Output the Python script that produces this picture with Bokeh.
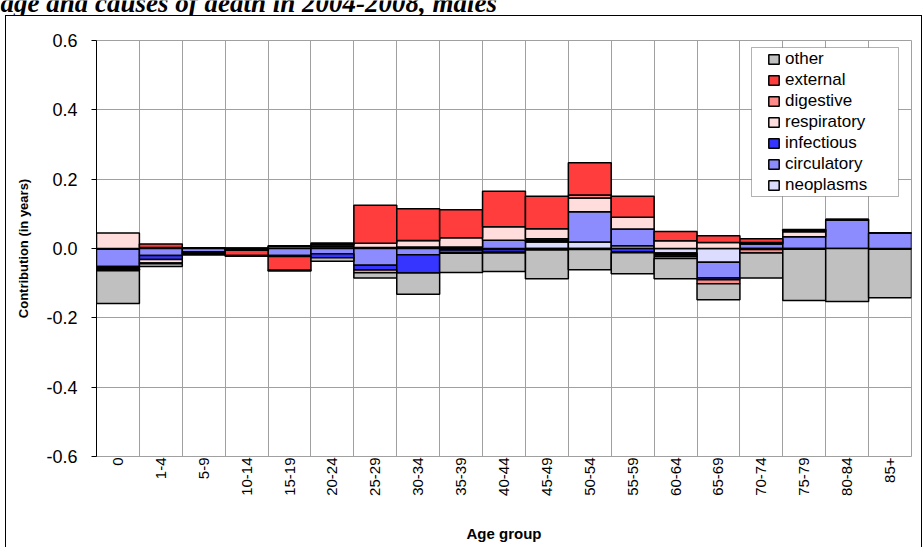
import numpy as np
from bokeh.plotting import figure
from bokeh.layouts import column
from bokeh.models import (FixedTicker, Legend, LegendItem, Span, Label, BoxAnnotation,
                          Range1d, PrintfTickFormatter, Column)
from bokeh.embed import file_html
from bokeh.resources import INLINE

# ---------------- data ----------------
ages = ["0", "1-4", "5-9", "10-14", "15-19", "20-24", "25-29", "30-34", "35-39", "40-44",
        "45-49", "50-54", "55-59", "60-64", "65-69", "70-74", "75-79", "80-84", "85+"]

neoplasms   = [-0.002, 0.003, 0.002, 0.001, 0.006, 0.005, 0.003, 0.004, 0.004, -0.003,
               0.019, 0.019, 0.008, -0.013, -0.040, 0.000, 0.000, 0.000, -0.002]
circulatory = [-0.050, -0.020, -0.010, -0.002, -0.020, -0.015, -0.048, -0.018, -0.004, 0.024,
               0.004, 0.087, 0.048, -0.004, -0.045, 0.013, 0.034, 0.082, 0.045]
infectious  = [-0.004, -0.012, -0.003, -0.003, -0.003, -0.012, -0.014, -0.053, -0.008, -0.008,
               0.005, -0.003, -0.010, -0.005, -0.005, -0.003, -0.002, 0.002, 0.000]
respiratory = [0.045, -0.010, 0.000, 0.000, 0.002, 0.005, 0.012, 0.019, 0.027, 0.039,
               0.029, 0.040, 0.034, 0.022, 0.017, 0.004, 0.014, 0.000, 0.000]
digestive   = [-0.004, -0.002, 0.000, 0.000, 0.000, 0.002, -0.008, 0.000, -0.002, -0.002,
               -0.004, 0.008, -0.002, -0.007, -0.012, -0.010, 0.004, 0.000, 0.000]
external    = [-0.004, 0.010, -0.002, -0.015, -0.040, 0.004, 0.110, 0.092, 0.081, 0.102,
               0.094, 0.093, 0.061, 0.027, 0.020, 0.011, 0.003, 0.000, 0.000]
other       = [-0.095, -0.008, -0.004, -0.002, -0.002, -0.010, -0.015, -0.061, -0.055, -0.053,
               -0.083, -0.058, -0.061, -0.058, -0.046, -0.072, -0.148, -0.153, -0.140]

y_ticks = [-0.6, -0.4, -0.2, 0.0, 0.2, 0.4, 0.6]

title_text = "age and causes of death in 2004-2008, males"

# stacking order (first = closest to zero) and legend order
stack_order = ["neoplasms", "circulatory", "infectious", "respiratory", "digestive", "external", "other"]
legend_order = ["other", "external", "digestive", "respiratory", "infectious", "circulatory", "neoplasms"]
series = {"neoplasms": neoplasms, "circulatory": circulatory, "infectious": infectious,
          "respiratory": respiratory, "digestive": digestive, "external": external, "other": other}
colors = {"other": "#c0c0c0", "external": "#ff3d3d", "digestive": "#ff8a8a",
          "respiratory": "#ffdddd", "infectious": "#3535ff", "circulatory": "#8c8cff",
          "neoplasms": "#dcdcff"}

FONT = "Liberation Sans"

# ---------------- title strip (top is cut off, as in the reference) ----------------
t = figure(width=924, height=15, min_border=0, x_axis_location=None, y_axis_location=None,
           x_range=Range1d(0, 1), y_range=Range1d(0, 1),
           output_backend="svg", toolbar_location=None)
t.outline_line_color = None
t.grid.visible = False
t.background_fill_color = "white"
t.border_fill_color = "white"
t.add_layout(Label(x=0, y=13, x_units="screen", y_units="screen", text=title_text,
                   text_font="Liberation Serif", text_font_style="bold italic",
                   text_font_size="27px", text_color="black", text_baseline="middle"))

# ---------------- main chart ----------------
n = len(ages)
xc = np.arange(n) + 0.5

p = figure(frame_width=813, frame_height=415,
           min_border_left=90, min_border_right=12, min_border_top=24, min_border_bottom=92,
           x_range=Range1d(0, n), y_range=Range1d(-0.6, 0.6),
           output_backend="svg", toolbar_location=None,
           margin=(0, 0, 0, 5))
p.styles = {"border-top": "1px solid black", "border-left": "1px solid black",
            "border-right": "1px solid black"}
p.background_fill_color = "white"
p.border_fill_color = "white"
p.outline_line_color = "#a0a0a0"

# grids at category boundaries and y ticks
p.xgrid.ticker = FixedTicker(ticks=list(range(n + 1)))
p.ygrid.ticker = FixedTicker(ticks=y_ticks)
for g in (p.xgrid, p.ygrid):
    g.grid_line_color = "#a0a0a0"
    g.grid_line_width = 1

# stacked bars (positives stack up, negatives stack down)
pos = np.zeros(n)
neg = np.zeros(n)
renderers = {}
for name in stack_order:
    vals = np.array(series[name], dtype=float)
    bottom = np.where(vals >= 0, pos, neg)
    top = bottom + vals
    pos = np.where(vals >= 0, top, pos)
    neg = np.where(vals < 0, top, neg)
    renderers[name] = p.vbar(x=xc, width=1.0, bottom=bottom, top=top,
                             fill_color=colors[name], line_color="black", line_width=1.5)

p.add_layout(Span(location=0, dimension="width", line_color="black", line_width=1))

# x axis
xa = p.xaxis[0]
xa.ticker = FixedTicker(ticks=list(xc))
xa.major_label_overrides = {float(x): a for x, a in zip(xc, ages)}
xa.major_label_orientation = np.pi / 2
xa.axis_line_color = None
xa.major_tick_line_color = None
xa.minor_tick_line_color = None
xa.major_tick_out = 0
xa.major_tick_in = 0
xa.minor_tick_out = 0
xa.major_label_standoff = 1
xa.major_label_text_font = FONT
xa.major_label_text_font_size = "15px"
xa.major_label_text_color = "black"
xa.axis_label = "Age group"
xa.axis_label_text_font = FONT
xa.axis_label_text_font_style = "bold"
xa.axis_label_text_font_size = "15px"
xa.axis_label_text_color = "black"
xa.axis_label_standoff = 26

# y axis
ya = p.yaxis[0]
ya.ticker = FixedTicker(ticks=y_ticks)
ya.formatter = PrintfTickFormatter(format="%.1f")
ya.axis_line_color = "black"
ya.major_tick_line_color = "black"
ya.major_tick_out = 5
ya.major_tick_in = 0
ya.minor_tick_line_color = None
ya.major_label_text_font = FONT
ya.major_label_text_font_size = "18px"
ya.major_label_text_color = "black"
ya.major_label_standoff = 14
ya.axis_label = "Contribution (in years)"
ya.axis_label_text_font = FONT
ya.axis_label_text_font_style = "bold"
ya.axis_label_text_font_size = "13px"
ya.axis_label_text_color = "black"
ya.axis_label_standoff = 12

# legend box
p.add_layout(BoxAnnotation(left=744, right=891, top=30, bottom=179,
                           left_units="canvas", right_units="canvas",
                           top_units="canvas", bottom_units="canvas",
                           fill_color="white", fill_alpha=1.0, line_color="black", line_width=1))

legend = Legend(items=[LegendItem(label=name, renderers=[renderers[name]]) for name in legend_order],
                location=(671, 261), padding=0, margin=0, spacing=0,
                label_height=21, glyph_height=12, glyph_width=13, label_standoff=5,
                label_text_font=FONT, label_text_font_size="17px", label_text_color="black",
                background_fill_alpha=0, border_line_color=None)
p.add_layout(legend)

# nesting each plot in its own column keeps the title strip's frame from being
# aligned with the chart's frame
layout = column(Column(children=[t]), Column(children=[p]), spacing=0)
open("out.html", "w").write(file_html(layout, INLINE))
